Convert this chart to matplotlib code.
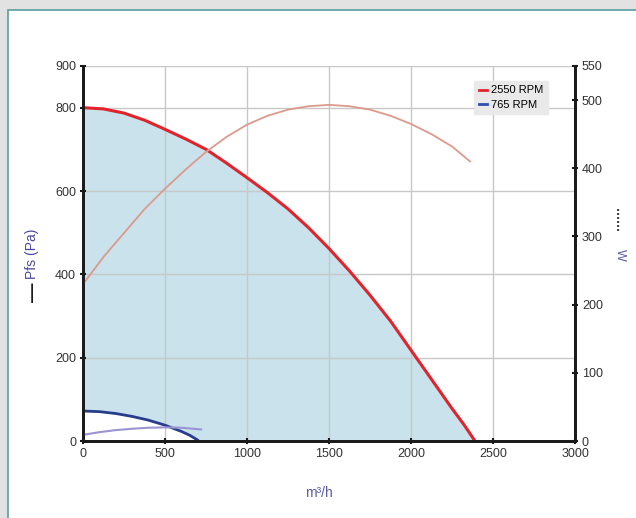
import numpy as np
import matplotlib.pyplot as plt
from matplotlib.lines import Line2D
from matplotlib.patches import Rectangle

plt.rcParams['font.family'] = ['Liberation Sans', 'DejaVu Sans']

# 2550 RPM - pressure (Pa) and power (W)
q_hi = [0, 125, 250, 375, 500, 625, 750, 875, 1000, 1125, 1250, 1375, 1500,
        1625, 1750, 1875, 2000, 2125, 2250, 2325, 2390]
p_hi = [800, 797, 787, 770, 748, 725, 700, 667, 632, 596, 557, 512, 462,
        408, 350, 288, 218, 148, 78, 38, 0]
qw_hi = [0, 125, 250, 375, 500, 625, 750, 875, 1000, 1125, 1250, 1375, 1500,
         1625, 1750, 1875, 2000, 2125, 2250, 2360]
w_hi = [230, 270, 305, 340, 370, 398, 424, 446, 464, 477, 486, 491, 493,
        491, 486, 477, 465, 450, 432, 410]

# 765 RPM
q_lo = [0, 100, 200, 300, 400, 500, 600, 650, 700, 705]
p_lo = [72, 70.5, 66, 59, 50, 38, 23, 14, 2, 0]
qw_lo = [0, 100, 200, 300, 400, 500, 600, 720]
w_lo = [9, 13, 16, 18, 19.5, 20, 19.5, 17]

x_ticks = [0, 500, 1000, 1500, 2000, 2500, 3000]
left_ticks = [0, 200, 400, 600, 800, 900]
right_ticks = [0, 100, 200, 300, 400, 500, 550]

fig = plt.figure(figsize=(6.36, 5.18), dpi=100)
fig.patch.set_facecolor('#e2e2e2')
fig.patches.append(Rectangle((8 / 636, -0.02), 1.0, 0.02 + 508 / 518, transform=fig.transFigure,
                             facecolor='white', edgecolor='#5a9ea0', lw=1.2, zorder=-5))

ax = fig.add_axes([0.1305, 0.1486, 0.7736, 0.724])
ax.set_facecolor('none')
ax2 = ax.twinx()

# shaded working area between the two speed curves
ax.fill_between(q_hi, 0, p_hi, color='#c9e2eb', lw=0, zorder=1)
ax.fill_between(q_lo, 0, p_lo, color='white', lw=0, zorder=1.2)

ax.plot(q_hi, p_hi, color='#e3232b', lw=2.2)
ax.plot(q_lo, p_lo, color='#283c8c', lw=2.0)
ax2.plot(qw_hi, w_hi, color='#dc9a8c', lw=1.3)
ax2.plot(qw_lo, w_lo, color='#9b94d2', lw=1.5)

ax.set_xlim(0, 3000)
ax.set_ylim(0, 900)
ax2.set_ylim(0, 550)
ax.set_xticks(x_ticks)
ax.set_yticks(left_ticks)
ax2.set_yticks(right_ticks)

ax.grid(True, color='#c8c8c8', lw=1)
for a in (ax, ax2):
    for s in ('left', 'right', 'bottom'):
        a.spines[s].set_linewidth(2)
        a.spines[s].set_color('#1a1a1a')
    a.spines['top'].set_visible(False)
    a.tick_params(labelsize=9, colors='#1a1a1a', labelcolor='#333333', width=1.5, length=4,
                  direction='inout', pad=3)

ax.set_xlabel('m³/h', color='#5a5aa8', fontsize=10)
ax.xaxis.set_label_coords(0.48, -0.12)
ax.set_ylabel('Pfs (Pa)', color='#4848a0', fontsize=10)
ax.yaxis.set_label_coords(-0.09, 0.5)
fig.text(0.052, 0.435, '—', rotation=90, fontsize=14, fontweight='bold', color='#1a1a1a',
         ha='center', va='center')
fig.text(0.974, 0.575, '......', rotation=-90, fontsize=10, fontweight='bold', color='#444444',
         ha='center', va='center')
fig.text(0.975, 0.507, 'W', rotation=-90, fontsize=9, color='#5a5aa8',
         ha='center', va='center')

handles = [Line2D([], [], color='#e3232b', lw=2), Line2D([], [], color='#2a4fb0', lw=2)]
leg = ax2.legend(handles, ['2550 RPM', '765 RPM'], loc='upper left', bbox_to_anchor=(0.795, 0.96),
                 fontsize=8, handlelength=0.8, handletextpad=0.3, borderpad=0.4, labelspacing=0.4,
                 frameon=True, fancybox=False, framealpha=1, borderaxespad=0)
leg.get_frame().set_facecolor('#e9e9e9')
leg.get_frame().set_edgecolor('#e9e9e9')

fig.savefig('out.png', dpi=100, facecolor=fig.get_facecolor())
